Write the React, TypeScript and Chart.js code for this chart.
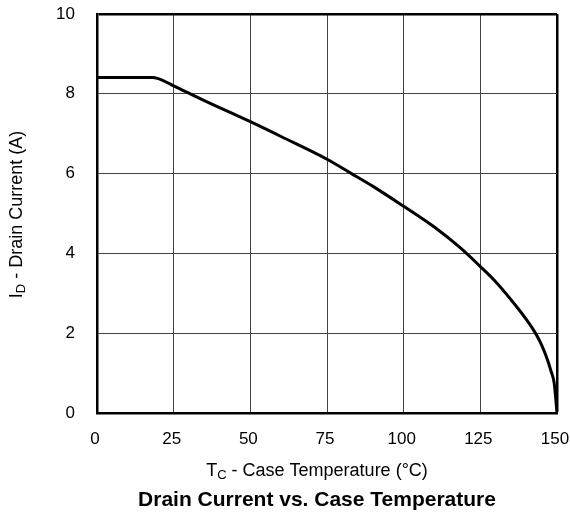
import React, { useEffect, useRef } from "react";
import { Chart, registerables } from "chart.js";

Chart.register(...registerables);

const temperatureC = [0, 18, 20, 25, 35, 50, 60, 75, 83, 90, 100, 110, 118.6, 125, 130, 135, 138, 140.4, 142, 143.5, 145, 147, 148, 149.1, 150];
const drainCurrentA = [8.41, 8.41, 8.38, 8.2, 7.83, 7.3, 6.93, 6.36, 6.0, 5.68, 5.18, 4.66, 4.13, 3.67, 3.29, 2.84, 2.55, 2.3, 2.12, 1.93, 1.7, 1.31, 1.06, 0.74, 0];
const xTicks = [0, 25, 50, 75, 100, 125, 150];
const yTicks = [0, 2, 4, 6, 8, 10];
const chartTitle = "Drain Current vs. Case Temperature";
const xTitleMain = "T";
const xTitleSub = "C";
const xTitleRest = " - Case Temperature (°C)";
const yTitleMain = "I";
const yTitleSub = "D";
const yTitleRest = " - Drain Current (A)";

const FONT = '"Liberation Sans", Arial, Helvetica, sans-serif';

function drawSubTitle(ctx: CanvasRenderingContext2D, main: string, sub: string, rest: string, size: number, subSize: number) {
  ctx.font = `${size}px ${FONT}`;
  const w1 = ctx.measureText(main).width;
  const w3 = ctx.measureText(rest).width;
  ctx.font = `${subSize}px ${FONT}`;
  const w2 = ctx.measureText(sub).width;
  const total = w1 + w2 + w3;
  let x = -total / 2;
  ctx.textBaseline = "middle";
  ctx.textAlign = "left";
  ctx.font = `${size}px ${FONT}`;
  ctx.fillText(main, x, 0);
  x += w1;
  ctx.font = `${subSize}px ${FONT}`;
  ctx.fillText(sub, x, 4);
  x += w2;
  ctx.font = `${size}px ${FONT}`;
  ctx.fillText(rest, x, 0);
}

const titlesPlugin = {
  id: "customTitles",
  afterDraw(chart: any) {
    const ctx: CanvasRenderingContext2D = chart.ctx;
    const area = chart.chartArea;
    const cx = (area.left + area.right) / 2 - 10;
    ctx.save();
    ctx.fillStyle = "#000";
    ctx.translate(cx, 471);
    drawSubTitle(ctx, xTitleMain, xTitleSub, xTitleRest, 18, 13);
    ctx.restore();

    ctx.save();
    ctx.fillStyle = "#000";
    ctx.translate(17, (area.top + area.bottom) / 2 + 1);
    ctx.rotate(-Math.PI / 2);
    drawSubTitle(ctx, yTitleMain, yTitleSub, yTitleRest, 18, 13);
    ctx.restore();

    ctx.save();
    ctx.fillStyle = "#000";
    ctx.font = `bold 21px ${FONT}`;
    ctx.textAlign = "center";
    ctx.textBaseline = "middle";
    ctx.fillText(chartTitle, cx, 500);
    ctx.restore();
  },
};

const resetPadding = (s: any) => {
  s.paddingTop = 0;
  s.paddingBottom = 0;
  s.paddingLeft = 0;
  s.paddingRight = 0;
};

export default function App() {
  const ref = useRef<HTMLCanvasElement | null>(null);
  useEffect(() => {
    if (!ref.current) return;
    const chart = new Chart(ref.current, {
      type: "line",
      data: {
        datasets: [
          {
            data: temperatureC.map((t, i) => ({ x: t, y: drainCurrentA[i] })),
            borderColor: "#000",
            borderWidth: 3,
            pointRadius: 0,
            cubicInterpolationMode: "monotone",
            fill: false,
          },
        ],
      },
      options: {
        animation: false,
        responsive: false,
        maintainAspectRatio: false,
        layout: { padding: { top: 14, right: 13, left: 0, bottom: 0 } },
        plugins: { legend: { display: false }, tooltip: { enabled: false }, title: { display: false } },
        scales: {
          x: {
            type: "linear",
            min: 0,
            max: 150,
            afterFit: (s: any) => {
              s.height = 100;
              resetPadding(s);
            },
            afterBuildTicks: (s: any) => {
              s.ticks = xTicks.map((v) => ({ value: v }));
            },
            ticks: {
              color: "#000",
              font: { family: FONT, size: 17 },
              padding: 16,
              labelOffset: -2,
              maxRotation: 0,
            },
            grid: {
              drawTicks: false,
              color: (c: any) => (c.tick && c.tick.value === 150 ? "#000" : "#444"),
              lineWidth: (c: any) => (c.tick && c.tick.value === 150 ? 2.5 : 1),
            },
            border: { display: true, color: "#000", width: 2.5 },
          },
          y: {
            type: "linear",
            min: 0,
            max: 10,
            afterFit: (s: any) => {
              s.width = 97;
              resetPadding(s);
            },
            afterBuildTicks: (s: any) => {
              s.ticks = yTicks.map((v) => ({ value: v }));
            },
            ticks: {
              color: "#000",
              font: { family: FONT, size: 17 },
              padding: 22,
            },
            grid: {
              drawTicks: false,
              color: (c: any) => (c.tick && c.tick.value === 10 ? "#000" : "#444"),
              lineWidth: (c: any) => (c.tick && c.tick.value === 10 ? 2.5 : 1),
            },
            border: { display: true, color: "#000", width: 2.5 },
          },
        },
      },
      plugins: [titlesPlugin],
    } as any);
    return () => chart.destroy();
  }, []);
  return (
    <div style={{ position: "fixed", left: 0, top: 0, width: 570, height: 513, background: "#fff" }}>
      <canvas ref={ref} width={570} height={513} style={{ width: 570, height: 513, display: "block" }} />
    </div>
  );
}
